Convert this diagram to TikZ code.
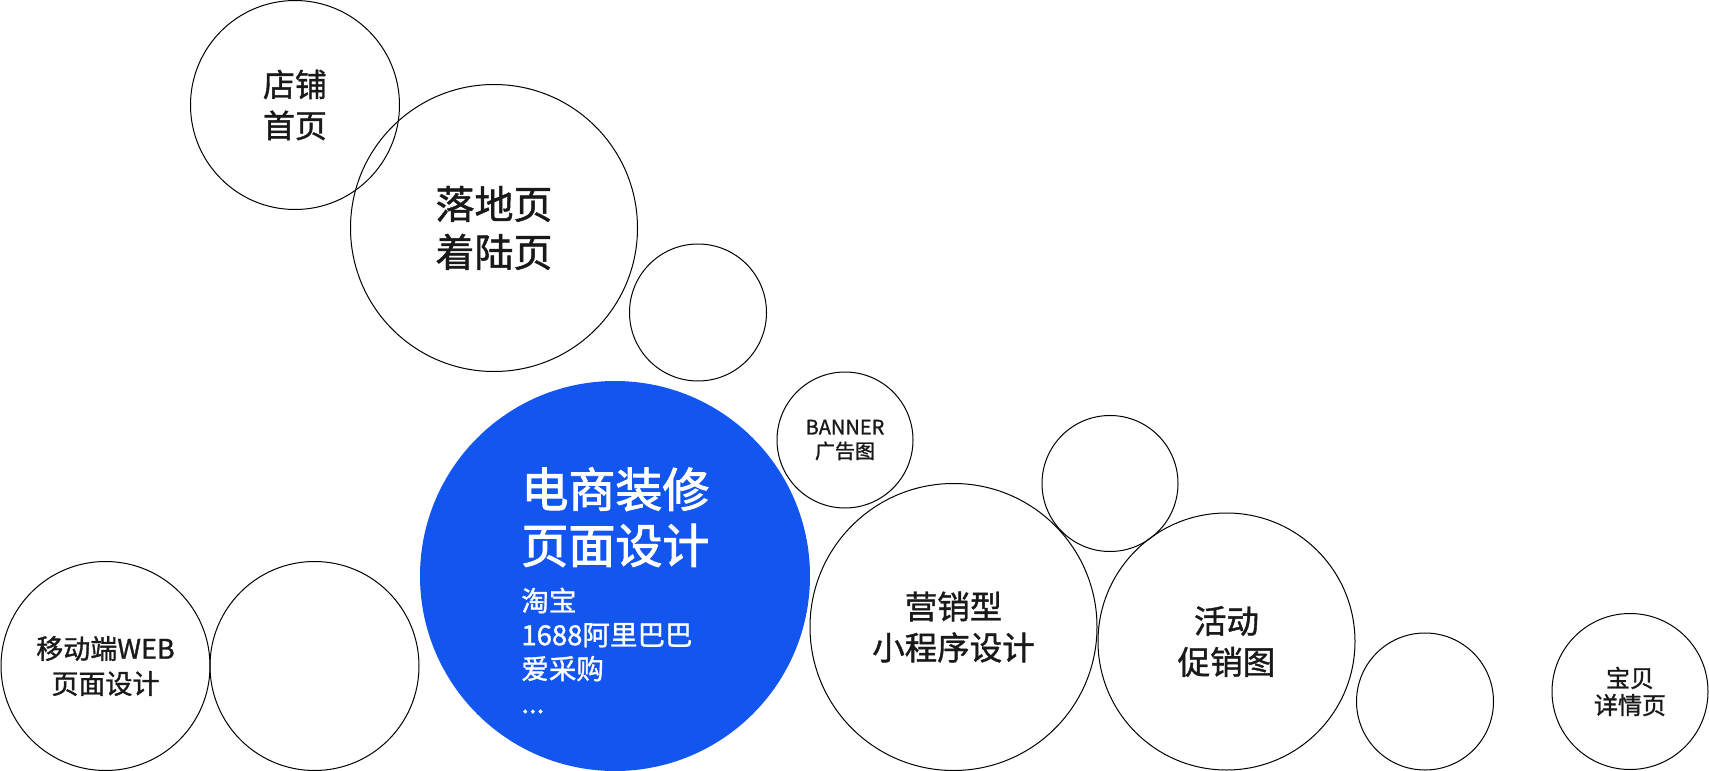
\documentclass[tikz,border=0pt]{standalone}
\usepackage{fontspec}
\setmainfont{Noto Sans CJK SC}[FakeBold=1.2]
\newfontfamily\titlefont{Noto Sans CJK SC}[FakeBold=2]
\usepackage{xcolor}
\usepackage{tikz}
\usetikzlibrary{positioning}
\definecolor{hubblue}{HTML}{1256EF}

\begin{document}
\begin{tikzpicture}[x=0.5pt,y=-0.5pt,
  bubble/.style={circle,draw=black,line width=0.5pt,inner sep=0pt,align=center,text=black!90},
  hub/.style={circle,fill=hubblue,inner sep=0pt}]
\useasboundingbox (0,0) rectangle (1709,771);
% Upper left bubbles
\node[bubble,minimum size=104.5pt,font=\fontsize{16pt}{20.5pt}\selectfont] (shop) at (295,105) {店铺\\首页};
\node[bubble,minimum size=143.5pt,font=\fontsize{19.5pt}{24pt}\selectfont] (landing) at (494,228) {落地页\\着陆页};
\node[bubble,minimum size=68.5pt] (blankA) at (698,312.5) {};
\node[bubble,minimum size=68pt,font=\fontsize{10pt}{12pt}\selectfont] (banner) at (845,440) {BANNER\\广告图};
% Central bubble
\node[hub,minimum size=195pt] (hub) at (615,576) {};
\node[anchor=north west,inner sep=0pt,align=left,text=white,font=\titlefont\fontsize{23.5pt}{28pt}\selectfont] (hubtitle) at (521,467) {电商装修\\页面设计};
\node[below=10pt of hubtitle.south west,anchor=north west,inner sep=0pt,align=left,text=white,font=\fontsize{13.75pt}{17pt}\selectfont] (hubsub) {淘宝\\1688阿里巴巴\\爱采购\\...};
% Lower left bubbles
\node[bubble,minimum size=104.5pt,font=\fontsize{13.5pt}{17.5pt}\selectfont] (mobile) at (105.5,666) {移动端WEB\\页面设计};
\node[bubble,minimum size=104.5pt] (blankB) at (314.5,666) {};
% Lower right bubbles
\node[bubble,minimum size=68pt] (blankC) at (1110,483.5) {};
\node[bubble,minimum size=143.5pt,font=\fontsize{16.25pt}{20.5pt}\selectfont] (mini) at (953.5,627) {营销型\\小程序设计};
\node[bubble,minimum size=128.5pt,font=\fontsize{16.25pt}{20.5pt}\selectfont] (promo) at (1226.5,641.5) {活动\\促销图};
\node[bubble,minimum size=68.5pt] (blankD) at (1425,701.5) {};
\node[bubble,minimum size=78pt,font=\fontsize{12pt}{13.5pt}\selectfont] (detail) at (1630,691.5) {宝贝\\详情页};
\end{tikzpicture}
\end{document}
